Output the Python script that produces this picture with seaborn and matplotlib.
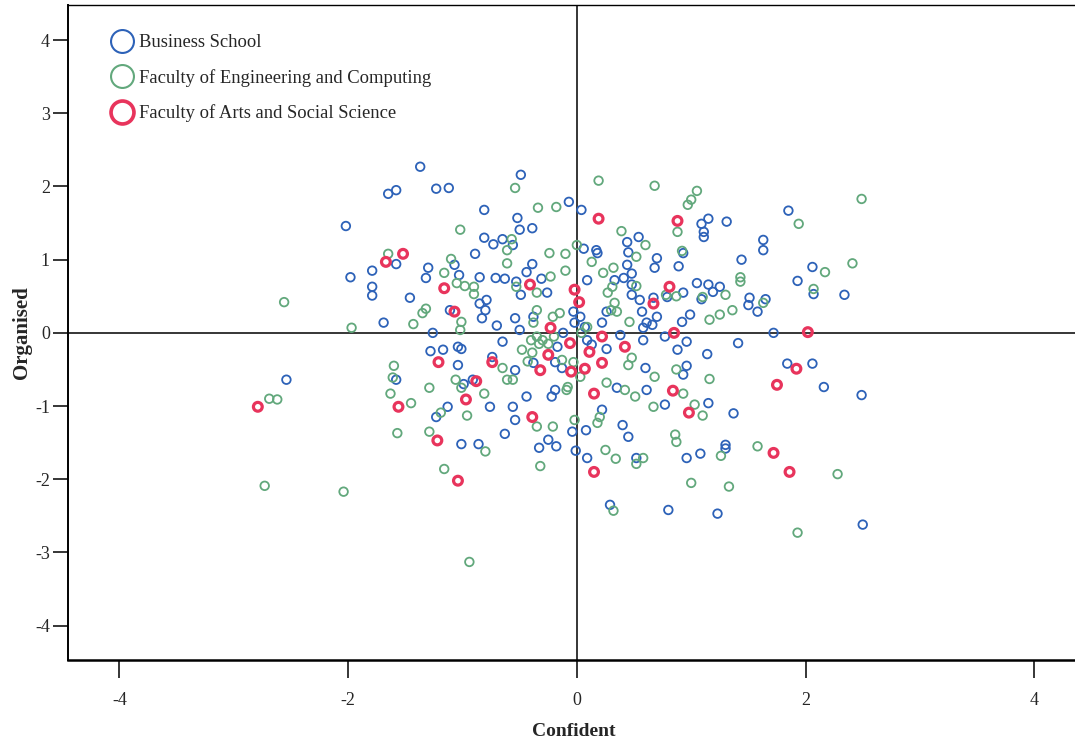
import matplotlib
matplotlib.use("Agg")
import matplotlib.pyplot as plt
from matplotlib.lines import Line2D
import numpy as np
import pandas as pd
import seaborn as sns

# Standardised scores per student: (Confident, Organised)
business_x = [2.5, 2.49, 2.06, 1.84, 2.16, 1.72, 1.85, 2.06, 1.93, 2.07, 2.34,
              -1.37, -1.65, -1.58, -1.23, -1.12, -0.81, -2.02, -0.81, -0.73, -0.89, -1.58, -1.07, -1.3, -1.32,
              -1.03, -0.85, -0.71, -1.79, -1.98, -1.79, -1.79, -1.46, -0.79,
              -1.11, -0.85, -0.8, -0.83, -0.7, -1.69, -1.26, -1.28, -1.17, -1.04, -1.01, -1.04, -0.74, -1.58,
              -2.54, -0.91, -0.99, -0.76, -1.13, -1.23, -1.01, -0.86,
              -0.49, -0.07, 0.04, 1.09, 1.15, 1.11, 1.11, 1.31, -0.52, -0.5, -0.39, -0.65, -0.56, -0.39, -0.44,
              -0.31, -0.26, -0.63, -0.53, 0.06, 0.17, 0.18, 0.09, 0.44, 0.45, 0.54, 0.7, 0.68, 0.44, 0.48, 0.33,
              0.41, 0.48, 0.93, 0.89, 1.44, 1.63, 1.63, 1.05, 1.15, 1.25, 1.19, 0.93, 0.79, 0.67, 1.51, 1.65,
              -0.49, 0.48, 0.55, 1.09, 0.26, 0.22, 0.57, 0.61, 0.7, 0.92, 0.99, 1.5, 1.58, 1.41, 1.14, 0.96,
              0.88, 0.96, 0.93, 0.77, 0.58, 0.6, 0.61, 0.26, 0.35, 0.77, 1.15, 1.37, 0.4, 0.45, 1.3, 0.22,
              0.08, -0.04, -0.25, -0.18, -0.33, -0.63, -0.54, -0.56, -0.44, -0.22, -0.19, -0.54, -0.38, -0.13,
              -0.19, -0.65, -0.38, -0.54, -0.5, -0.03, -0.02, 0.03, 0.07, -0.12, -0.17, 0.09, 0.13, 0.38, 0.58,
              0.66, -0.01, 0.09, 0.52, 0.96, 1.08, 1.3, 0.29, 0.8, 1.23]
business_y = [-2.62, -0.85, -0.42, -0.42, -0.74, 0.0, 1.67, 0.9, 0.71, 0.53, 0.52,
              2.27, 1.9, 1.95, 1.97, 1.98, 1.68, 1.46, 1.3, 1.21, 1.08, 0.94, 0.93, 0.89, 0.75,
              0.79, 0.76, 0.75, 0.85, 0.76, 0.63, 0.51, 0.48, 0.45,
              0.31, 0.4, 0.31, 0.2, 0.1, 0.14, 0.0, -0.25, -0.23, -0.19, -0.22, -0.44, -0.33, -0.64,
              -0.64, -0.64, -0.7, -1.01, -1.01, -1.15, -1.52, -1.52,
              2.16, 1.79, 1.68, 1.49, 1.56, 1.38, 1.31, 1.52, 1.57, 1.41, 1.43, 1.28, 1.2, 0.94, 0.83,
              0.74, 0.55, 0.74, 0.7, 1.15, 1.13, 1.09, 0.72, 1.24, 1.1, 1.31, 1.02, 0.89, 0.93, 0.81, 0.72,
              0.75, 0.66, 1.09, 0.91, 1.0, 1.27, 1.13, 0.68, 0.66, 0.63, 0.56, 0.55, 0.49, 0.48, 0.48, 0.46,
              0.52, 0.52, 0.45, 0.46, 0.29, 0.14, 0.29, 0.14, 0.22, 0.15, 0.25, 0.38, 0.29, -0.14, -0.29, -0.12,
              -0.23, -0.45, -0.57, -0.05, -0.1, -0.48, -0.78, -0.22, -0.75, -0.98, -0.96, -1.1, -1.26, -1.42, -1.53, -1.05,
              -1.33, -1.35, -1.46, -1.55, -1.57, -1.38, -1.19, -1.01, -0.87, -0.87, -0.78, -0.51, -0.41, -0.48,
              -0.4, -0.12, 0.22, 0.2, 0.04, 0.29, 0.14, 0.22, 0.08, 0.0, -0.19, -0.1, -0.16, -0.03, 0.07,
              0.11, -1.61, -1.71, -1.71, -1.71, -1.65, -1.58, -2.35, -2.42, -2.47]

engineering_x = [-2.56, -2.69, -2.62, -2.73, -2.04, -0.94, -1.97, 2.49, 1.94, 2.17, 2.41, 2.07, 2.28, 1.93,
                 -1.02, -1.65, -1.1, -1.16, -1.05, -0.98, -0.9, -0.9,
                 -1.32, -1.35, -1.43, -1.01, -1.02, -1.6, -1.61, -1.63, -1.45, -1.29, -1.06, -1.01, -0.81,
                 -1.19, -0.96, -1.57, -1.29, -0.8, -1.16,
                 -0.54, 0.19, 0.68, 1.05, 1.0, 0.97, -0.34, -0.18, 0.88, -0.57, -0.61, -0.61, -0.24, -0.1,
                 -0.1, -0.23, -0.53, 0.0, 0.13, 0.39, 0.6, 0.52, 0.32, 0.23, 0.31, 0.52, 0.92, 1.43, 1.43,
                 1.3, 1.1,
                 0.27, -0.35, 0.33, 0.3, 0.35, 0.46, 0.78, 0.87, 1.16, 1.25, 1.36, 1.63, 1.16, 0.87, 0.68,
                 0.45, 0.48, 0.26, 0.42, 0.51, 0.67, 0.93, 1.1, 1.03, 0.86, 0.87, 1.58, 0.2, 0.18, -0.02,
                 -0.21, -0.35, -0.09, -0.08, -0.65, -0.56, -0.61, -0.48, -0.39, -0.43, -0.13, -0.03, 0.03,
                 -0.35, -0.3, -0.25, -0.2, -0.33, -0.4, -0.35, -0.15, -0.21, -0.38, 0.04, 0.09,
                 -0.32, 0.25, 0.34, 0.58, 0.52, 1.26, 1.0, 1.33, 0.32]
engineering_y = [0.42, -0.9, -0.91, -2.09, -2.17, -3.13, 0.07, 1.83, 1.49, 0.83, 0.95, 0.6, -1.93, -2.73,
                 1.41, 1.08, 1.01, 0.82, 0.68, 0.64, 0.63, 0.53,
                 0.33, 0.27, 0.12, 0.15, 0.04, -0.45, -0.61, -0.83, -0.96, -0.75, -0.64, -0.75, -0.83,
                 -1.09, -1.13, -1.37, -1.35, -1.62, -1.86,
                 1.98, 2.08, 2.01, 1.94, 1.82, 1.75, 1.71, 1.72, 1.38, 1.28, 1.13, 0.95, 1.09, 1.08,
                 0.85, 0.77, 0.63, 1.2, 0.97, 1.39, 1.2, 1.04, 0.89, 0.82, 0.63, 0.64, 1.12, 0.76, 0.7,
                 0.52, 0.49,
                 0.55, 0.55, 0.41, 0.31, 0.29, 0.15, 0.52, 0.5, 0.18, 0.25, 0.31, 0.41, -0.63, -0.5, -0.6,
                 -0.44, -0.34, -0.68, -0.78, -0.87, -1.01, -0.83, -1.13, -0.98, -1.39, -1.49, -1.55, -1.15, -1.23, -1.19,
                 -1.28, -1.28, -0.78, -0.74, -0.48, -0.64, -0.64, -0.23, -0.27, -0.39, -0.37, -0.4, -0.6,
                 -0.05, -0.1, -0.15, -0.05, -0.15, -0.1, 0.31, 0.27, 0.22, 0.14, 0.0, 0.08,
                 -1.82, -1.6, -1.72, -1.71, -1.79, -1.68, -2.05, -2.1, -2.43]

arts_x = [-2.79, -1.56, -1.52, -1.67, -1.16, -1.07, -1.21, -0.74, -0.88, -0.97, -1.22, -1.04,
          0.19, 0.88, -0.41, -0.02, 0.81, 0.67, 0.02, -0.23, -0.06, 0.22, 0.85, 0.42, 0.11, -0.25,
          0.22, 0.07, -0.05, -0.32, 0.15, 0.84, 0.98, -0.39, 0.15, 2.02, 1.92, 1.75, 1.72, 1.86]
arts_y = [-1.01, -1.01, 1.08, 0.97, 0.61, 0.29, -0.4, -0.4, -0.66, -0.91, -1.47, -2.02,
          1.56, 1.53, 0.66, 0.59, 0.63, 0.4, 0.42, 0.07, -0.14, -0.05, 0.0, -0.19, -0.26, -0.3,
          -0.41, -0.49, -0.53, -0.51, -0.83, -0.79, -1.09, -1.15, -1.9, 0.01, -0.49, -0.71, -1.64, -1.9]

faculties = ["Business School",
             "Faculty of Engineering and Computing",
             "Faculty of Arts and Social Science"]
colors = ["#2d62b8", "#62a87c", "#e8345c"]
edge_widths = [1.3, 1.3, 2.3]
marker_sizes = [38, 38, 40]

df = pd.concat([
    pd.DataFrame({"Confident": business_x, "Organised": business_y, "Faculty": faculties[0]}),
    pd.DataFrame({"Confident": engineering_x, "Organised": engineering_y, "Faculty": faculties[1]}),
    pd.DataFrame({"Confident": arts_x, "Organised": arts_y, "Faculty": faculties[2]}),
], ignore_index=True)

sns.set_style("white")
plt.rcParams["font.family"] = ["Liberation Serif", "DejaVu Serif"]
plt.rcParams["axes.unicode_minus"] = False

fig = plt.figure(figsize=(10.75, 7.45), dpi=100)
ax = fig.add_axes([68 / 1075, 85 / 745, 1012 / 1075, 655 / 745])

ax.axhline(0, color="black", lw=1.1, zorder=1)
ax.axvline(0, color="black", lw=1.1, zorder=1)

palette = dict(zip(faculties, colors))
sns.scatterplot(data=df, x="Confident", y="Organised", hue="Faculty",
                hue_order=faculties, palette=palette, legend=False, ax=ax,
                marker="o", s=38, zorder=3)

# turn the filled markers into rings, heavier for the arts group
coll = ax.collections[-1]
fc = coll.get_facecolors()
lw_map = dict(zip(faculties, edge_widths))
size_map = dict(zip(faculties, marker_sizes))
coll.set_edgecolors(fc)
coll.set_facecolors("none")
coll.set_linewidths(df["Faculty"].map(lw_map).to_numpy())
coll.set_sizes(df["Faculty"].map(size_map).to_numpy())

ax.set_xlim(-4.45, 4.40)
ax.set_ylim(-4.47, 4.48)
ax.set_xticks([-4, -2, 0, 2, 4])
ax.set_yticks([-4, -3, -2, -1, 0, 1, 2, 3, 4])
ax.tick_params(axis="x", direction="out", length=13, width=1.1, pad=10, labelsize=13, color="black")
ax.tick_params(axis="y", direction="out", length=11, width=1.1, pad=2, labelsize=13, color="black")
ax.tick_params(left=True, bottom=True)

for side in ["left", "bottom", "top", "right"]:
    ax.spines[side].set_color("black")
ax.spines["left"].set_linewidth(1.4)
ax.spines["bottom"].set_linewidth(1.8)
ax.spines["top"].set_linewidth(1.0)
ax.spines["right"].set_linewidth(1.0)

ax.set_xlabel("Confident", fontsize=14, fontweight="bold", labelpad=10)
ax.set_ylabel("Organised", fontsize=15, fontweight="bold", labelpad=2)

handles = [Line2D([], [], marker="o", ls="", markersize=16.5, markerfacecolor="none",
                  markeredgecolor=c, markeredgewidth=w * 1.15)
           for c, w in zip(colors, edge_widths)]
fig.legend(handles, faculties, loc="upper left", bbox_to_anchor=(109 / 1075, 1 - 34 / 745),
           frameon=False, fontsize=13.4, handlelength=1.45, handletextpad=0.15,
           labelspacing=0.95, borderpad=0, borderaxespad=0)

fig.savefig("out.png", dpi=100)
